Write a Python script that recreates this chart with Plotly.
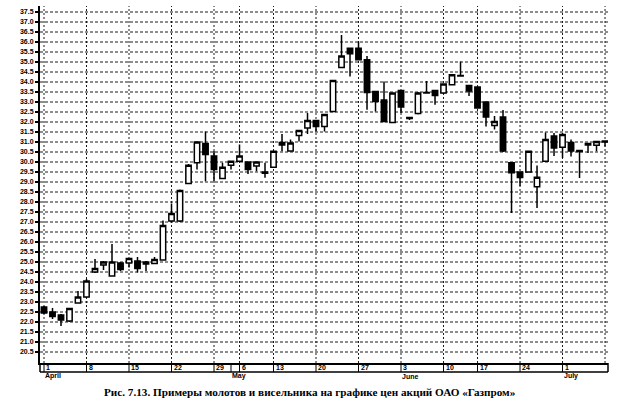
import plotly.graph_objects as go

# ---- data ----
dates = [
    "2002-04-01", "2002-04-02", "2002-04-03", "2002-04-04", "2002-04-05",
    "2002-04-08", "2002-04-09", "2002-04-10", "2002-04-11", "2002-04-12",
    "2002-04-15", "2002-04-16", "2002-04-17", "2002-04-18", "2002-04-19",
    "2002-04-22", "2002-04-23", "2002-04-24", "2002-04-25", "2002-04-26",
    "2002-04-29", "2002-04-30", "2002-05-03",
    "2002-05-06", "2002-05-07", "2002-05-08", "2002-05-10",
    "2002-05-13", "2002-05-14", "2002-05-15", "2002-05-16", "2002-05-17",
    "2002-05-20", "2002-05-21", "2002-05-22", "2002-05-23", "2002-05-24",
    "2002-05-27", "2002-05-28", "2002-05-29", "2002-05-30", "2002-05-31",
    "2002-06-03", "2002-06-04", "2002-06-05", "2002-06-06", "2002-06-07",
    "2002-06-10", "2002-06-11", "2002-06-13", "2002-06-14",
    "2002-06-17", "2002-06-18", "2002-06-19", "2002-06-20", "2002-06-21",
    "2002-06-24", "2002-06-25", "2002-06-26", "2002-06-27", "2002-06-28",
    "2002-07-01", "2002-07-02", "2002-07-03", "2002-07-04", "2002-07-05",
    "2002-07-08",
]
opens = [
    22.75, 22.50, 22.35, 22.05, 22.95,
    23.25, 24.50, 24.85, 24.30, 24.95,
    24.95, 25.05, 25.00, 24.92, 25.10,
    27.05, 27.05, 28.93, 29.96, 30.92,
    30.30, 29.17, 29.84,
    30.04, 30.00, 29.80, 29.50,
    29.74, 30.97, 30.55, 31.33, 31.70,
    32.08, 31.78, 32.53, 34.72, 35.69,
    35.69, 35.11, 33.53, 33.10, 31.98,
    33.58, 32.22, 32.42, 33.45, 33.58,
    33.45, 33.86, 34.30, 33.83,
    33.75, 33.00, 31.82, 32.25, 29.96,
    29.50, 29.50, 28.76, 30.04, 31.30,
    30.74, 30.98, 30.57, 30.92, 30.84,
    31.05,
]
highs = [
    22.80, 22.70, 22.40, 22.70, 23.55,
    24.15, 25.15, 25.05, 25.90, 25.00,
    25.20, 25.25, 25.05, 25.25, 27.08,
    27.92, 28.62, 29.90, 31.00, 31.53,
    30.55, 29.96, 30.05,
    30.87, 30.02, 30.02, 29.96,
    30.55, 31.40, 31.12, 31.58, 32.45,
    32.10, 32.40, 34.10, 36.35, 35.72,
    36.02, 35.30, 33.55, 34.03, 33.47,
    33.60, 32.25, 33.50, 34.05, 33.60,
    33.92, 34.38, 35.02, 33.85,
    33.78, 33.02, 32.30, 32.60, 30.00,
    29.52, 30.55, 29.82, 31.48, 31.45,
    31.45, 31.12, 30.60, 30.93, 31.05,
    31.07,
]
lows = [
    22.40, 22.15, 21.80, 22.00, 22.93,
    23.20, 24.45, 24.60, 24.28, 24.55,
    24.72, 24.47, 24.55, 24.90, 25.08,
    27.00, 27.00, 28.90, 29.62, 29.04,
    29.04, 29.15, 29.62,
    30.00, 29.40, 29.54, 29.21,
    29.72, 30.54, 30.54, 31.03, 31.40,
    31.53, 31.53, 32.50, 34.70, 34.28,
    35.10, 32.61, 32.53, 32.00, 31.95,
    32.45, 32.10, 32.38, 33.43, 32.86,
    33.40, 33.85, 34.28, 33.30,
    32.68, 31.78, 31.62, 30.50, 27.45,
    28.80, 29.48, 27.70, 30.00, 30.30,
    30.20, 30.28, 29.20, 30.45, 30.54,
    30.78,
]
closes = [
    22.45, 22.28, 22.10, 22.68, 23.25,
    24.05, 24.68, 25.00, 25.00, 24.62,
    25.18, 24.68, 24.90, 25.12, 26.82,
    27.42, 28.58, 29.84, 31.00, 30.37,
    29.62, 29.74, 30.04,
    30.30, 29.62, 30.00, 29.44,
    30.54, 30.85, 30.95, 31.57, 32.08,
    31.78, 32.37, 34.08, 35.30, 35.41,
    35.11, 33.48, 33.03, 32.03, 33.45,
    32.75, 32.18, 33.45, 33.47, 33.32,
    33.90, 34.36, 34.32, 33.55,
    32.70, 32.25, 32.03, 30.55, 29.46,
    29.22, 30.54, 29.24, 31.12, 30.70,
    31.37, 30.55, 30.52, 30.85, 31.03,
    31.00,
]

y_ticks = [20.5, 21.0, 21.5, 22.0, 22.5, 23.0, 23.5, 24.0, 24.5, 25.0,
           25.5, 26.0, 26.5, 27.0, 27.5, 28.0, 28.5, 29.0, 29.5, 30.0,
           30.5, 31.0, 31.5, 32.0, 32.5, 33.0, 33.5, 34.0, 34.5, 35.0,
           35.5, 36.0, 36.5, 37.0, 37.5]
y_tick_labels = ["%.1f" % v for v in y_ticks]

week_starts = ["2002-04-01", "2002-04-08", "2002-04-15", "2002-04-22",
               "2002-04-29", "2002-05-06", "2002-05-13", "2002-05-20",
               "2002-05-27", "2002-06-03", "2002-06-10", "2002-06-17",
               "2002-06-24", "2002-07-01"]
week_labels = ["1", "8", "15", "22", "29", "6", "13", "20", "27",
               "3", "10", "17", "24", "1"]
last_grid = "2002-07-08"
month_starts = ["2002-04-01", "2002-05-03", "2002-06-03", "2002-07-01"]
month_labels = ["April", "May", "June", "July"]

caption = "Рис. 7.13. Примеры молотов и висельника на графике цен акций ОАО «Газпром»"

# ---- figure ----
fig = go.Figure(go.Candlestick(
    x=dates, open=opens, high=highs, low=lows, close=closes,
    increasing=dict(fillcolor="white", line=dict(color="black", width=1.5)),
    decreasing=dict(fillcolor="black", line=dict(color="black", width=1.5)),
    whiskerwidth=0, showlegend=False, hoverinfo="skip",
))

plot_h = 417 - 6 - 54
box_h = -9.0 / plot_h

shapes = []
# dotted grid
for v in y_ticks:
    shapes.append(dict(type="line", xref="paper", yref="y", x0=0, x1=1,
                       y0=v, y1=v, layer="below",
                       line=dict(color="#1a1a1a", width=1, dash="3px,2px")))
for d in week_starts + [last_grid]:
    shapes.append(dict(type="line", xref="x", yref="paper", x0=d, x1=d,
                       y0=0, y1=1, layer="below",
                       line=dict(color="#1a1a1a", width=1, dash="2px,2px")))
# label strip under the x axis
shapes.append(dict(type="line", xref="paper", yref="paper", x0=0, x1=1,
                   y0=box_h, y1=box_h, line=dict(color="black", width=1.5)))
shapes.append(dict(type="line", xref="paper", yref="paper", x0=0, x1=0,
                   y0=0, y1=box_h, line=dict(color="black", width=1.5)))
shapes.append(dict(type="line", xref="paper", yref="paper", x0=1, x1=1,
                   y0=0, y1=box_h, line=dict(color="black", width=1.5)))
for d in week_starts + [m for m in month_starts if m not in week_starts]:
    shapes.append(dict(type="line", xref="x", yref="paper", x0=d, x1=d,
                       y0=0, y1=box_h, line=dict(color="black", width=1)))

annotations = []
small = dict(family="Liberation Sans, Arial, sans-serif", size=7,
             color="black", weight="bold")
for d, t in zip(week_starts, week_labels):
    annotations.append(dict(x=d, xref="x", y=box_h / 2, yref="paper",
                            text=t, showarrow=False, xanchor="left",
                            yanchor="middle", xshift=0, font=small))
for d, t in zip(month_starts, month_labels):
    annotations.append(dict(x=d, xref="x", y=-13.0 / plot_h, yref="paper",
                            text=t, showarrow=False, xanchor="left",
                            yanchor="middle", xshift=-1, font=small))
annotations.append(dict(x=(310 - 40) / 568.0, xref="paper",
                        y=-(392 - 363) / plot_h, yref="paper",
                        text=caption, showarrow=False, xanchor="center",
                        yanchor="middle",
                        font=dict(family="Liberation Serif, Times New Roman, serif",
                                  size=11.2, color="black", weight="bold")))

fig.update_layout(
    width=636, height=417,
    margin=dict(l=40, r=28, t=6, b=54),
    paper_bgcolor="white", plot_bgcolor="white",
    boxgap=0.1,
    shapes=shapes, annotations=annotations,
    xaxis=dict(
        type="category", categoryorder="array", categoryarray=dates,
        range=[-0.47, 66.35], rangeslider=dict(visible=False),
        showticklabels=False, ticks="", showgrid=False,
        showline=True, linecolor="black", linewidth=2, zeroline=False,
        fixedrange=True,
    ),
    yaxis=dict(
        range=[19.95, 37.8], tickvals=y_ticks, ticktext=y_tick_labels,
        ticks="outside", ticklen=3, tickwidth=1.5, tickcolor="black",
        tickfont=small, showgrid=False,
        showline=True, linecolor="black", linewidth=2, zeroline=False,
        fixedrange=True,
    ),
)

fig.write_html("out.html", config={"displayModeBar": False},
               post_script="document.body.style.margin='0';")
